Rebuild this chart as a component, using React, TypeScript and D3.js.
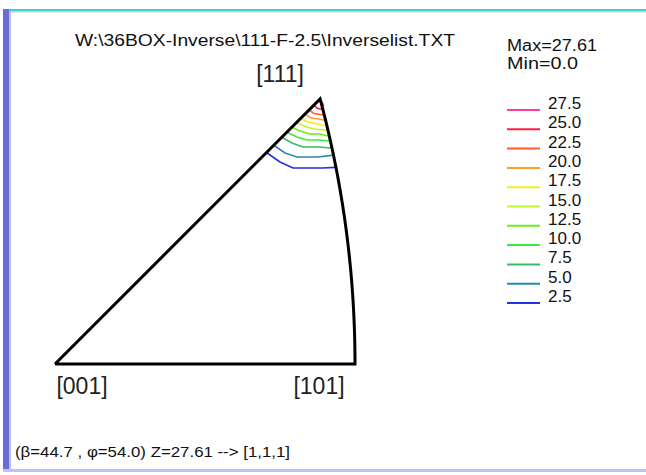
import React from "react";
import * as d3 from "d3";

// ---- data ----
const titleText = "W:\\36BOX-Inverse\\111-F-2.5\\Inverselist.TXT";
const maxText = "Max=27.61";
const minText = "Min=0.0";
const statusText = "(\u03B2=44.7 , \u03C6=54.0) Z=27.61 --> [1,1,1]";

const poleNames = ["[001]", "[101]", "[111]"];
const poleDirs: number[][] = [
  [0, 0, 1],
  [1, 0, 1],
  [1, 1, 1],
];

const levels = [27.5, 25.0, 22.5, 20.0, 17.5, 15.0, 12.5, 10.0, 7.5, 5.0, 2.5];
const levelLabels = ["27.5", "25.0", "22.5", "20.0", "17.5", "15.0", "12.5", "10.0", "7.5", "5.0", "2.5"];
const levelColors = [
  "#ff3c9c", "#ff2040", "#ff5a28", "#ffa020", "#f4ec1c", "#c4f430",
  "#6cf010", "#3ee83e", "#30c062", "#2a86b8", "#2232e0",
];

// contour polylines in stereographic coordinates (x', y')
const c27_5 = [[0.3660, 0.3640], [0.3690, 0.3610], [0.3712, 0.3565]];
const c25_0 = [[0.357, 0.357], [0.3631, 0.3528], [0.3699, 0.3514]];
const c22_5 = [[0.351, 0.351], [0.3576, 0.3458], [0.3659, 0.3445], [0.3718, 0.3439]];
const c20_0 = [[0.345, 0.345], [0.3534, 0.3396], [0.3645, 0.3383], [0.3737, 0.3363]];
const c17_5 = [[0.339, 0.339], [0.3493, 0.3341], [0.3617, 0.3314], [0.3755, 0.3286]];
const c15_0 = [[0.333, 0.333], [0.3438, 0.3286], [0.3576, 0.3245], [0.3770, 0.3223]];
const c12_5 = [[0.327, 0.327], [0.3383, 0.3217], [0.3521, 0.3176], [0.3659, 0.3176], [0.3789, 0.3145]];
const c10_0 = [[0.320, 0.320], [0.3341, 0.3134], [0.3479, 0.3093], [0.3631, 0.3093], [0.3803, 0.3080]];
const c7_5 = [[0.313, 0.313], [0.3272, 0.3051], [0.3424, 0.2996], [0.3631, 0.2996], [0.3824, 0.2983]];
const c5_0 = [[0.302, 0.302], [0.3176, 0.2913], [0.3341, 0.2858], [0.3631, 0.2858], [0.3845, 0.2884]];
const c2_5 = [[0.292, 0.292], [0.3106, 0.2789], [0.3286, 0.2706], [0.3686, 0.2706], [0.3879, 0.2715]];
const contourLines = [c27_5, c25_0, c22_5, c20_0, c17_5, c15_0, c12_5, c10_0, c7_5, c5_0, c2_5];

// ---- helpers ----
const stereo = (v: number[]) => {
  const n = Math.hypot(v[0], v[1], v[2]);
  const x = v[0] / n, y = v[1] / n, z = v[2] / n;
  return [x / (1 + z), y / (1 + z)];
};

const FONT = "'Liberation Sans', Arial, sans-serif";

export default function App() {
  const W = 646, H = 475;
  const edge = stereo(poleDirs[1])[0];
  const sx = d3.scaleLinear().domain([0, edge]).range([55, 355]);
  const sy = d3.scaleLinear().domain([0, edge]).range([364, 64]);

  const poles = poleDirs.map(stereo);
  const arcPts = d3.range(0, 1.0001, 0.02).map((k) => stereo([1, k, 1]));
  const boundary: number[][] = [poles[0], ...arcPts, poles[0]];
  const line = d3
    .line<number[]>()
    .x((d) => sx(d[0]))
    .y((d) => sy(d[1]));

  const legendY = d3.scaleLinear().domain([0, levels.length - 1]).range([110, 303]);

  return (
    <svg width={W} height={H} style={{ position: "absolute", left: 0, top: 0, background: "#fff" }}>
      {/* window frame */}
      <rect x={3} y={9} width={6} height={462} fill="#6a6ad8" />
      <rect x={9} y={11} width={2} height={458} fill="#c0c0f0" />
      <rect x={9} y={9} width={637} height={2.5} fill="#30d8d8" />
      <rect x={11} y={11.5} width={635} height={1} fill="#cfcfcf" />
      <rect x={3} y={469} width={643} height={3} fill="#b8c6f4" />

      {/* title */}
      <text x={75} y={46} fontFamily={FONT} fontSize={17} textLength={380} lengthAdjust="spacingAndGlyphs" fill="#111">
        {titleText}
      </text>

      {/* contours */}
      {contourLines.map((pts, i) => (
        <path key={i} d={line(pts) || ""} fill="none" stroke={levelColors[i]} strokeWidth={1.6} />
      ))}

      {/* triangle */}
      <path d={line(boundary) || ""} fill="none" stroke="#000" strokeWidth={3} strokeLinejoin="miter" />

      {/* pole labels */}
      <text x={sx(poles[2][0]) - 40} y={82} textAnchor="middle" fontFamily={FONT} fontSize={23} fill="#222">
        {poleNames[2]}
      </text>
      <text x={sx(poles[0][0]) + 27} y={394} textAnchor="middle" fontFamily={FONT} fontSize={23} fill="#222">
        {poleNames[0]}
      </text>
      <text x={sx(poles[1][0]) - 36} y={394} textAnchor="middle" fontFamily={FONT} fontSize={23} fill="#222">
        {poleNames[1]}
      </text>

      {/* max/min */}
      <text x={507} y={51} fontFamily={FONT} fontSize={16} textLength={90} lengthAdjust="spacingAndGlyphs" fill="#111">{maxText}</text>
      <text x={507} y={69} fontFamily={FONT} fontSize={16} textLength={71} lengthAdjust="spacingAndGlyphs" fill="#111">{minText}</text>

      {/* legend */}
      {levels.map((lv, i) => (
        <g key={lv}>
          <line x1={507} x2={540} y1={legendY(i)} y2={legendY(i)} stroke={levelColors[i]} strokeWidth={2} />
          <text x={548} y={legendY(i) - 1} fontFamily={FONT} fontSize={17} fill="#111">
            {levelLabels[i]}
          </text>
        </g>
      ))}

      {/* status */}
      <text x={15} y={457} fontFamily={FONT} fontSize={14} textLength={275} lengthAdjust="spacingAndGlyphs" fill="#111">{statusText}</text>
    </svg>
  );
}
